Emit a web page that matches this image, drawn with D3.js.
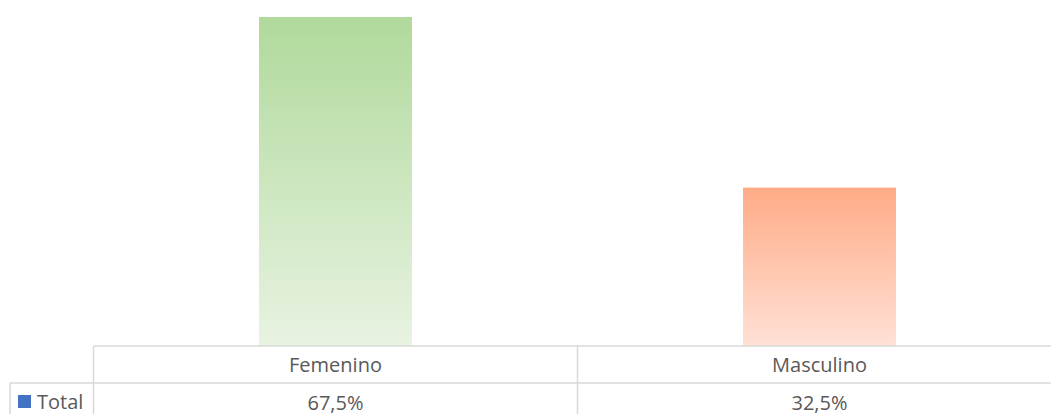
<!DOCTYPE html>
<html>
<head>
    <script src="https://d3js.org/d3.v7.min.js"></script>
    <style>
        body { margin: 0; background: #fff; }
        text { font-family: "Open Sans", "Noto Sans", sans-serif; fill: #595959; }
    </style>
</head>
<body>
    <div id="chart"></div>

    <script>
        // Data
        const categories = ["Femenino", "Masculino"];
        const values = [0.675, 0.325];
        const valueLabels = ["67,5%", "32,5%"];
        const seriesName = "Total";

        const width = 1051, height = 414;
        const baseY = 346, rowY = 383;

        const svg = d3.select("#chart").append("svg")
            .attr("width", width)
            .attr("height", height);

        // Gradients per bar
        const gradColors = [["#b0d99b", "#e8f3e2"], ["#ffab86", "#ffe1d6"]];
        const defs = svg.append("defs");
        gradColors.forEach((c, i) => {
            const g = defs.append("linearGradient")
                .attr("id", "grad" + i)
                .attr("x1", 0).attr("y1", 0).attr("x2", 0).attr("y2", 1);
            g.append("stop").attr("offset", "0%").attr("stop-color", c[0]);
            g.append("stop").attr("offset", "100%").attr("stop-color", c[1]);
        });

        // Scales
        const x = d3.scaleBand()
            .domain(categories)
            .range([93.5, 1061.5])
            .padding(0);

        const y = d3.scaleLinear()
            .domain([0, 0.675])
            .range([baseY, 17]);

        const barW = x.bandwidth() * 0.316;

        // Bars
        svg.selectAll("rect.bar")
            .data(values)
            .enter()
            .append("rect")
            .attr("class", "bar")
            .attr("x", (d, i) => x(categories[i]) + (x.bandwidth() - barW) / 2)
            .attr("y", d => y(d))
            .attr("width", barW)
            .attr("height", d => baseY - y(d))
            .attr("fill", (d, i) => "url(#grad" + i + ")");

        // Data table
        const lineColor = "#d9d9d9";
        const grid = svg.append("g")
            .attr("stroke", lineColor)
            .attr("stroke-width", 1.5)
            .attr("fill", "none");

        grid.append("line").attr("x1", x.range()[0]).attr("x2", width).attr("y1", baseY).attr("y2", baseY);
        grid.append("line").attr("x1", 10).attr("x2", width).attr("y1", rowY).attr("y2", rowY);
        grid.append("line").attr("x1", 10).attr("x2", 10).attr("y1", rowY).attr("y2", height);
        categories.forEach(c => {
            grid.append("line")
                .attr("x1", x(c)).attr("x2", x(c))
                .attr("y1", baseY).attr("y2", height);
        });

        // Category labels
        svg.selectAll("text.cat")
            .data(categories)
            .enter()
            .append("text")
            .attr("class", "cat")
            .attr("x", d => x(d) + x.bandwidth() / 2)
            .attr("y", 371.5)
            .attr("text-anchor", "middle")
            .attr("font-size", 20)
            .text(d => d);

        // Value labels
        svg.selectAll("text.val")
            .data(valueLabels)
            .enter()
            .append("text")
            .attr("class", "val")
            .attr("x", (d, i) => x(categories[i]) + x.bandwidth() / 2)
            .attr("y", 409.5)
            .attr("text-anchor", "middle")
            .attr("font-size", 20)
            .text(d => d);

        // Legend key
        svg.append("rect")
            .attr("x", 18).attr("y", 395)
            .attr("width", 13).attr("height", 13)
            .attr("fill", "#4472c4");

        svg.append("text")
            .attr("x", 37)
            .attr("y", 409)
            .attr("font-size", 20)
            .text(seriesName);
    </script>
</body>
</html>
